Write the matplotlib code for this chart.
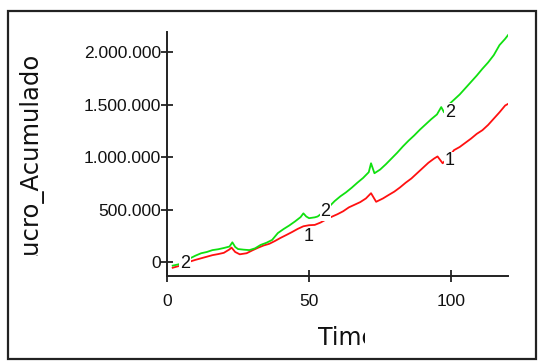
import matplotlib
matplotlib.use("Agg")
import matplotlib.pyplot as plt
from matplotlib.ticker import FuncFormatter, FixedLocator
from matplotlib.patches import Rectangle
from matplotlib.transforms import Bbox

# Series 1 (red) and series 2 (green): accumulated profit over time
time_1 = [2, 4, 6, 8, 10, 12, 14, 16, 18, 20, 22, 22.7, 24, 25.6, 28, 30, 32, 34,
          36, 38, 40, 42, 44, 46, 48, 50, 52, 54, 56, 58, 60, 62, 64, 66, 68, 70,
          71.8, 73.6, 76, 78, 80, 82, 84, 86, 88, 90, 92, 94, 95.2, 97, 99, 101,
          103, 105, 107, 109, 111, 113, 115, 117, 119, 120]
lucro_1 = [-50e3, -35e3, -18e3, 8e3, 25e3, 40e3, 55e3, 70e3, 80e3, 92e3, 125e3,
           142e3, 100e3, 78e3, 88e3, 115e3, 140e3, 162e3, 178e3, 205e3, 235e3,
           262e3, 290e3, 320e3, 345e3, 355e3, 358e3, 380e3, 410e3, 436e3, 460e3,
           488e3, 525e3, 550e3, 575e3, 610e3, 660e3, 578e3, 610e3, 643e3, 675e3,
           715e3, 760e3, 800e3, 850e3, 900e3, 950e3, 990e3, 1010e3, 945e3,
           1000e3, 1070e3, 1100e3, 1140e3, 1180e3, 1225e3, 1260e3, 1310e3,
           1370e3, 1430e3, 1495e3, 1510e3]

time_2 = [2, 4, 6, 8, 10, 12, 14, 16, 18, 20, 22, 23, 24, 25, 27, 29, 31, 33, 35,
          37, 39, 41, 43, 45, 47, 48, 49, 50, 52, 53, 55, 57, 59, 61, 63, 65, 67,
          69, 71, 71.8, 73, 75, 77, 79, 81, 83, 85, 87, 89, 91, 93, 95, 96.5,
          97.5, 99, 101, 103, 105, 107, 109, 111, 113, 115, 117, 119, 120]
lucro_2 = [-30e3, -18e3, -2e3, 38e3, 65e3, 88e3, 100e3, 118e3, 126e3, 138e3,
           152e3, 192e3, 148e3, 128e3, 122e3, 118e3, 135e3, 168e3, 188e3, 215e3,
           280e3, 318e3, 352e3, 390e3, 432e3, 468e3, 438e3, 422e3, 430e3, 438e3,
           478e3, 530e3, 585e3, 630e3, 668e3, 712e3, 760e3, 805e3, 860e3, 945e3,
           850e3, 885e3, 935e3, 990e3, 1045e3, 1105e3, 1160e3, 1210e3, 1265e3,
           1315e3, 1365e3, 1410e3, 1480e3, 1430e3, 1500e3, 1550e3, 1600e3,
           1660e3, 1720e3, 1780e3, 1845e3, 1905e3, 1975e3, 2070e3, 2130e3, 2165e3]

x_ticks = [0, 50, 100]
y_ticks = [0, 500000, 1000000, 1500000, 2000000]

# Series-number tags placed along the curves (label, time, value)
tags = [("2", 6.3, -14e3), ("1", 49.8, 243e3), ("2", 55.8, 481e3),
        ("2", 99.6, 1433e3), ("1", 99.6, 967e3)]

W, H = 539, 361
fig = plt.figure(figsize=(W / 100, H / 100), dpi=100)
fig.patch.set_facecolor("white")

# outer frame
fig.patches.append(Rectangle((8 / W, 1 - 359 / H), (536 - 8) / W, (359 - 11) / H,
                             transform=fig.transFigure, fill=False,
                             edgecolor="#222222", linewidth=1.6))

ax = fig.add_axes([167 / W, 1 - 276 / H, (508 - 167) / W, (276 - 32) / H])
ax.set_xlim(0, 120)
ax.set_ylim(-128600, 2195000)
for s in ("top", "right"):
    ax.spines[s].set_visible(False)
for s in ("left", "bottom"):
    ax.spines[s].set_color("#222222")
    ax.spines[s].set_linewidth(1.4)

ax.plot(time_1, lucro_1, color="#ff1010", linewidth=1.3, zorder=3)
ax.plot(time_2, lucro_2, color="#10e010", linewidth=1.3, zorder=3)

ax.xaxis.set_major_locator(FixedLocator(x_ticks))
ax.yaxis.set_major_locator(FixedLocator(y_ticks))
ax.yaxis.set_major_formatter(FuncFormatter(lambda v, p: f"{int(v):,}".replace(",", ".")))
ax.tick_params(axis="both", direction="inout", length=8.5, width=1.3,
               color="#222222", labelcolor="#111111")
ax.tick_params(axis="y", pad=0)
ax.tick_params(axis="x", pad=9)
for lab in ax.get_xticklabels() + ax.get_yticklabels():
    lab.set_fontfamily("Liberation Sans")
    lab.set_fontsize(12.5)

for txt, t, v in tags:
    ax.text(t, v, txt, ha="center", va="center", color="#111111", zorder=5,
            fontfamily="Liberation Sans", fontsize=13,
            bbox=dict(facecolor="white", edgecolor="none", pad=0.5))

# axis titles, trimmed at the edges
yl = fig.text(30 / W, 1 - 52 / H, "Lucro_Acumulado", rotation=90, ha="center",
              va="top", fontfamily="DejaVu Sans", fontsize=17.5, color="#111111")
yl.set_clip_box(Bbox.from_extents(0, H - 256, W, H))
yl.set_clip_on(True)

xl = fig.text(318 / W, 1 - 326 / H, "Time", ha="left", va="top",
              fontfamily="DejaVu Sans", fontsize=17, color="#111111")
xl.set_clip_box(Bbox.from_extents(0, 0, 365, H))
xl.set_clip_on(True)

fig.savefig("out.png", dpi=100, facecolor="white")
